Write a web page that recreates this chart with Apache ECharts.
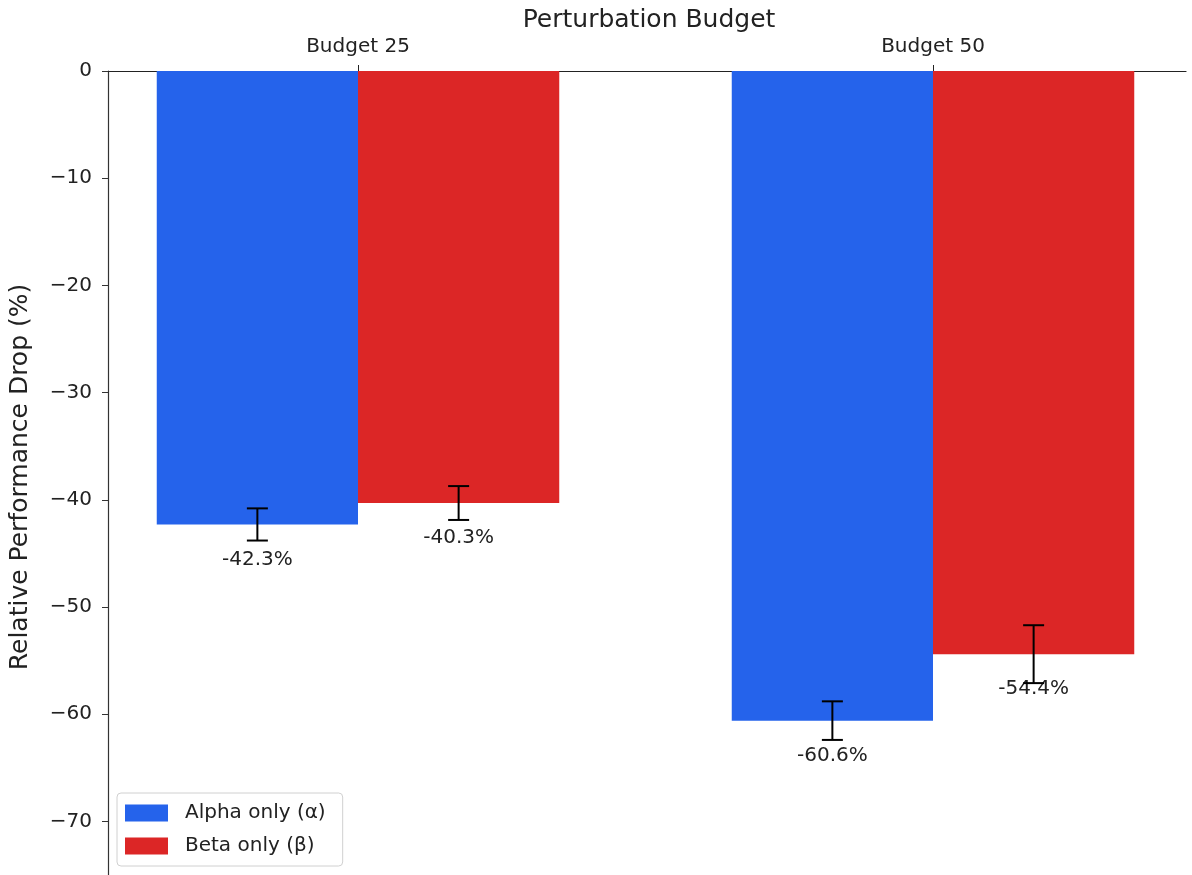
<!DOCTYPE html>
<html>
<head>
<meta charset="utf-8">
<script src="https://cdn.jsdelivr.net/npm/echarts@6/dist/echarts.min.js"></script>
<style>
  html, body { margin: 0; padding: 0; background: #fff; }
  #main { width: 1192px; height: 875px; }
</style>
</head>
<body>
<div id="main"></div>
<script>
// 数据
var categories = ['Budget 25', 'Budget 50'];
var alphaValues = [-42.3, -60.6];
var betaValues = [-40.3, -54.4];
var alphaErr = [1.5, 1.8];
var betaErr = [1.58, 2.7];
var yTicks = [-80, 0, 10]; // min, max, interval

var FONT = 'DejaVu Sans';
var BLUE = '#2563eb';
var RED = '#dc2626';

var myChart = echarts.init(document.getElementById('main'));

// 误差线 + 数值标签
function errRender(offset) {
    return function (params, api) {
        var c = api.value(0);
        var v = api.value(1);
        var e = api.value(2);
        var band = api.size([1, 0])[0];
        var x = api.coord([c, v])[0] + offset * band;
        var top = api.coord([c, v + e])[1];
        var bot = api.coord([c, v - e])[1];
        var mid = api.coord([c, v])[1];
        var cap = 10.5;
        var ls = { stroke: '#000', lineWidth: 2 };
        return {
            type: 'group',
            children: [
                { type: 'text', style: { text: v.toFixed(1) + '%', x: x, y: mid + 35, align: 'center', verticalAlign: 'middle', fill: '#222', font: '20px "' + FONT + '"' } },
                { type: 'line', shape: { x1: x, y1: top, x2: x, y2: bot }, style: ls },
                { type: 'line', shape: { x1: x - cap, y1: top, x2: x + cap, y2: top }, style: ls },
                { type: 'line', shape: { x1: x - cap, y1: bot, x2: x + cap, y2: bot }, style: ls }
            ]
        };
    };
}

var alphaErrData = alphaValues.map(function (v, i) { return [i, v, alphaErr[i]]; });
var betaErrData = betaValues.map(function (v, i) { return [i, v, betaErr[i]]; });

myChart.setOption({
    animation: false,
    title: {
        text: 'Perturbation Budget',
        left: 644,
        textAlign: 'center',
        top: 3,
        textStyle: { fontFamily: FONT, fontSize: 25, fontWeight: 'normal', color: '#222' }
    },
    legend: {
        orient: 'vertical',
        left: 117,
        top: 793,
        icon: 'rect',
        itemWidth: 43,
        itemHeight: 17,
        itemGap: 13,
        padding: [10, 17, 10, 8],
        backgroundColor: '#fff',
        borderColor: '#d0d0d0',
        borderWidth: 1,
        borderRadius: 4,
        data: ['Alpha only (α)', 'Beta only (β)'],
        textStyle: { fontFamily: FONT, fontSize: 20, color: '#222', padding: [0, 0, 0, 12] }
    },
    graphic: [{
        type: 'text',
        x: 20,
        y: 477,
        rotation: Math.PI / 2,
        style: {
            text: 'Relative Performance Drop (%)',
            align: 'center',
            verticalAlign: 'middle',
            fill: '#222',
            font: '25px "' + FONT + '"'
        }
    }],
    grid: [
        { left: 70.5, width: 1150, top: 71, height: 857.6, outerBoundsMode: 'none' },
        { left: 108, width: 1078, top: 71, height: 857.6, outerBoundsMode: 'none' }
    ],
    xAxis: [
        {
            gridIndex: 0,
            type: 'category',
            position: 'top',
            data: categories,
            axisLine: { show: false },
            axisTick: { show: true, alignWithLabel: true, length: 6, lineStyle: { color: '#222' } },
            axisLabel: { margin: 14, fontFamily: FONT, fontSize: 20, color: '#222' }
        },
        {
            gridIndex: 1,
            type: 'value',
            position: 'top',
            min: 0,
            max: 1,
            axisLine: { show: true, onZero: false, lineStyle: { color: '#222', width: 1.2 } },
            axisTick: { show: false },
            axisLabel: { show: false },
            splitLine: { show: false }
        }
    ],
    yAxis: [
        {
            gridIndex: 0,
            type: 'value',
            min: yTicks[0],
            max: yTicks[1],
            interval: yTicks[2],
            show: false
        },
        {
            gridIndex: 1,
            type: 'value',
            min: yTicks[0],
            max: yTicks[1],
            interval: yTicks[2],
            axisLine: { show: true, onZero: false, lineStyle: { color: '#333', width: 1.2 } },
            axisTick: { show: true, length: 6, lineStyle: { color: '#333' } },
            axisLabel: {
                margin: 16,
                fontFamily: FONT,
                fontSize: 20,
                color: '#222',
                formatter: function (v) { return v < 0 ? '\u2212' + Math.abs(v) : String(v); }
            },
            splitLine: { show: false }
        }
    ],
    series: [
        {
            name: 'Alpha only (α)',
            type: 'bar',
            xAxisIndex: 0,
            yAxisIndex: 0,
            barWidth: '35%',
            barGap: '0%',
            itemStyle: { color: BLUE },
            data: alphaValues
        },
        {
            name: 'Beta only (β)',
            type: 'bar',
            xAxisIndex: 0,
            yAxisIndex: 0,
            barWidth: '35%',
            barGap: '0%',
            itemStyle: { color: RED },
            data: betaValues
        },
        {
            name: 'alphaErr',
            type: 'custom',
            xAxisIndex: 0,
            yAxisIndex: 0,
            renderItem: errRender(-0.175),
            encode: { x: 0, y: 1 },
            z: 5,
            data: alphaErrData
        },
        {
            name: 'betaErr',
            type: 'custom',
            xAxisIndex: 0,
            yAxisIndex: 0,
            renderItem: errRender(0.175),
            encode: { x: 0, y: 1 },
            z: 5,
            data: betaErrData
        }
    ]
});
</script>
</body>
</html>
